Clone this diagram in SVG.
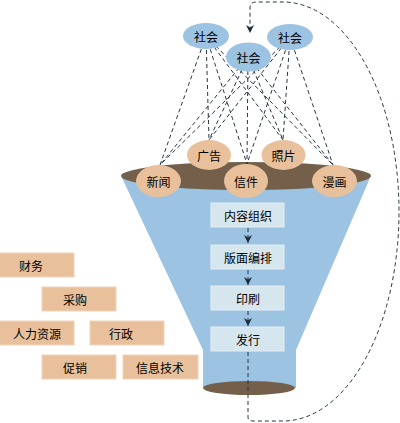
<svg xmlns="http://www.w3.org/2000/svg" width="400" height="423" viewBox="0 0 400 423">
<defs>
<style>
text{font-family:"Noto Sans CJK SC","Noto Sans",sans-serif;font-size:12px;fill:#000;text-anchor:middle;dominant-baseline:central}
.blue{fill:#9cc3e2}
.orange{fill:#e8c09b}
.brown{fill:#735f4a}
.box{fill:#d6e6ee;stroke:#e4eef4;stroke-width:1}
.obox{fill:#e8c09b;stroke:#f0d4ba;stroke-width:1}
.dash{fill:none;stroke:#263544;stroke-width:1;stroke-dasharray:4 3}
</style>
<marker id="arr" viewBox="0 0 10 10" refX="10" refY="5" markerWidth="8" markerHeight="10" markerUnits="userSpaceOnUse" orient="auto">
<path d="M0,0 L10,5 L0,10 L3,5 Z" fill="#1d2b38"/>
</marker>
</defs>
<rect width="400" height="423" fill="#fff"/>

<g id="funnel">
<path class="blue" d="M122,178 L370,178 L296,350 L296,388 L203,388 L203,350 Z"/>
<ellipse class="brown" cx="246" cy="176" rx="125" ry="14"/>
<ellipse class="brown" cx="249" cy="388" rx="46" ry="7"/>
</g>

<g id="connectors">
<path class="dash" d="M206,36 L160,165 M206,36 L209,140 M206,36 L247,164 M206,36 L283,140 M206,36 L333,165"/>
<path class="dash" d="M248,57 L160,165 M248,57 L209,140 M248,57 L247,164 M248,57 L283,140 M248,57 L333,165"/>
<path class="dash" d="M290,37 L160,165 M290,37 L209,140 M290,37 L247,164 M290,37 L283,140 M290,37 L333,165"/>
<path class="dash" d="M248,228 V243" marker-end="url(#arr)"/>
<path class="dash" d="M248,270 V285" marker-end="url(#arr)"/>
<path class="dash" d="M248,311 V326" marker-end="url(#arr)"/>
<path class="dash" d="M248,352 V417 Q248,421 253,421 H283 A116,209.5 0 0 0 283,2 H256 Q250,2 250,8 V33" marker-end="url(#arr)"/>
</g>

<g id="society1"><ellipse class="blue" cx="206" cy="36" rx="23" ry="13"/><text x="206" y="36">社会</text></g>
<g id="society3"><ellipse class="blue" cx="290" cy="37" rx="23" ry="13"/><text x="290" y="37">社会</text></g>
<g id="society2"><ellipse class="blue" cx="248.5" cy="57" rx="22.5" ry="14.5"/><text x="248.5" y="57">社会</text></g>

<g id="ad"><ellipse class="orange" cx="209" cy="155" rx="22" ry="15"/><text x="209" y="155">广告</text></g>
<g id="photo"><ellipse class="orange" cx="283.5" cy="155" rx="22" ry="15"/><text x="283.5" y="155">照片</text></g>
<g id="news"><ellipse class="orange" cx="158.5" cy="181" rx="22.5" ry="16"/><text x="158.5" y="181">新闻</text></g>
<g id="letter"><ellipse class="orange" cx="246" cy="181" rx="22" ry="17"/><text x="246" y="181">信件</text></g>
<g id="comic"><ellipse class="orange" cx="334.5" cy="181" rx="22.5" ry="16"/><text x="334.5" y="181">漫画</text></g>

<g id="step1"><rect class="box" x="211" y="203" width="73" height="24"/><text x="248" y="215">内容组织</text></g>
<g id="step2"><rect class="box" x="211" y="245" width="73" height="24"/><text x="248" y="257">版面编排</text></g>
<g id="step3"><rect class="box" x="211" y="286" width="73" height="24"/><text x="248" y="298">印刷</text></g>
<g id="step4"><rect class="box" x="211" y="327" width="73" height="24"/><text x="248" y="339">发行</text></g>

<g id="finance"><rect class="obox" x="-1" y="253" width="75" height="24"/><text x="31" y="265">财务</text></g>
<g id="purchase"><rect class="obox" x="42" y="287" width="74" height="24"/><text x="75" y="299">采购</text></g>
<g id="hr"><rect class="obox" x="-1" y="321" width="75" height="24"/><text x="37" y="333">人力资源</text></g>
<g id="admin"><rect class="obox" x="90" y="321" width="74" height="24"/><text x="121" y="333">行政</text></g>
<g id="promo"><rect class="obox" x="42" y="355" width="74" height="24"/><text x="75" y="367">促销</text></g>
<g id="it"><rect class="obox" x="123" y="355" width="75" height="24"/><text x="160" y="367">信息技术</text></g>
</svg>
